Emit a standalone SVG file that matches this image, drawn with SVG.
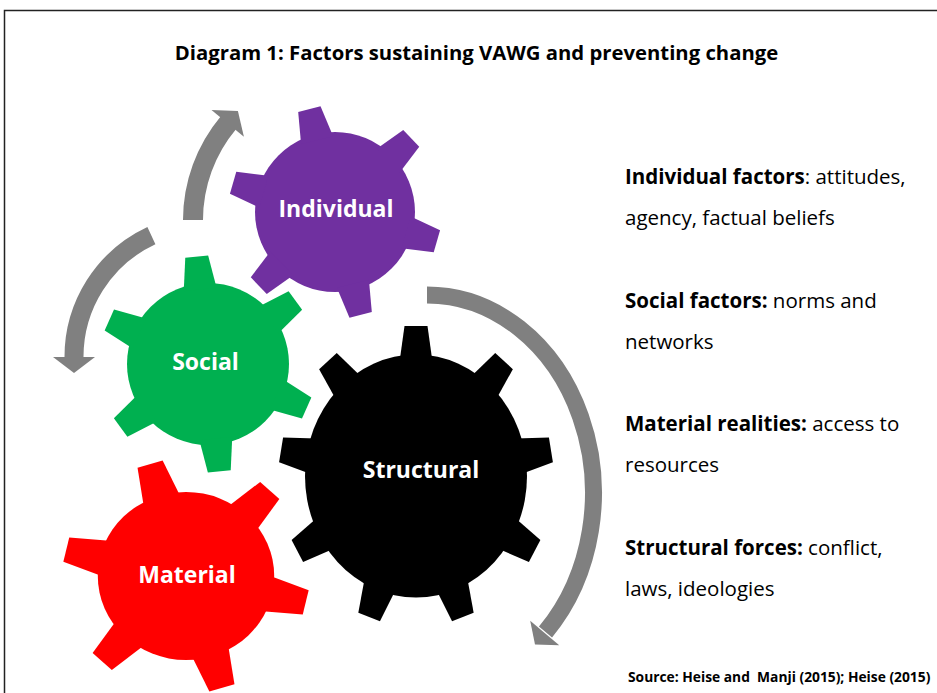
<svg xmlns="http://www.w3.org/2000/svg" width="937" height="693" viewBox="0 0 937 693">
<style>
  .frame { fill: none; stroke: #222; stroke-width: 1.5; }
  .title { font-family: "Open Sans", "Noto Sans", sans-serif; font-weight: bold; font-size: 20.3px; fill: #000; }
  .glabel { font-family: "Open Sans", "Noto Sans", sans-serif; font-weight: bold; font-size: 23px; fill: #fff; text-anchor: middle; }
  .desc { font-family: "Open Sans", "Noto Sans", sans-serif; font-size: 20.5px; fill: #000; }
  .b { font-weight: bold; }
  .src { font-family: "Open Sans", "Noto Sans", sans-serif; font-weight: bold; font-size: 13.8px; fill: #000; white-space: pre; }
  .shaft { fill: none; stroke: #808080; }
  .head { fill: #808080; }
</style>
<defs>
  <polygon id="tooth-black" points="-16.5,-104 -11.5,-137 11.5,-137 16.5,-104"/>
  <polygon id="tooth-red" points="-18,-79 -12.5,-117 12.5,-117 18,-79"/>
  <polygon id="tooth-green" points="-16.5,-75 -11.5,-108 11.5,-108 16.5,-75"/>
  <polygon id="tooth-purple" points="-16.5,-74 -11.5,-106 11.5,-106 16.5,-74"/>
</defs>

<rect width="937" height="693" fill="#fff"/>
<path class="frame" d="M4.5,693 V10.5 H937"/>

<text class="title" x="476.5" y="60" text-anchor="middle">Diagram 1: Factors sustaining VAWG and preventing change</text>

<g id="connectors">
  <g id="arrow-individual">
    <path class="shaft" stroke-width="20" d="M193,220 A152,152 0 0 1 228.5,122.6"/>
    <polygon class="head" points="211.5,109.9 237.9,111 243.9,136.7"/>
  </g>
  <g id="arrow-social">
    <path class="shaft" stroke-width="19" d="M151.4,235.6 A134,134 0 0 0 74,358"/>
    <polygon class="head" points="53,357 95,357 74,373"/>
  </g>
  <g id="arrow-structural">
    <path class="shaft" stroke-width="17" d="M427,295 A166.5,198 0 0 1 545.5,632"/>
    <polygon class="head" points="530.2,620.7 559.2,645.3 535,644.5"/>
  </g>
</g>

<g id="node-individual">
  <g fill="#7030A0" transform="translate(335,212)">
    <circle r="80"/>
    <use href="#tooth-purple" transform="rotate(-14)"/>
    <use href="#tooth-purple" transform="rotate(46)"/>
    <use href="#tooth-purple" transform="rotate(106)"/>
    <use href="#tooth-purple" transform="rotate(166)"/>
    <use href="#tooth-purple" transform="rotate(226)"/>
    <use href="#tooth-purple" transform="rotate(286)"/>
  </g>
  <text class="glabel" x="336" y="217">Individual</text>
</g>

<g id="node-social">
  <g fill="#00B050" transform="translate(208,364)">
    <circle r="81"/>
    <use href="#tooth-green" transform="rotate(-6)"/>
    <use href="#tooth-green" transform="rotate(54)"/>
    <use href="#tooth-green" transform="rotate(114)"/>
    <use href="#tooth-green" transform="rotate(174)"/>
    <use href="#tooth-green" transform="rotate(234)"/>
    <use href="#tooth-green" transform="rotate(294)"/>
  </g>
  <text class="glabel" x="205.5" y="370">Social</text>
</g>

<g id="node-material">
  <g fill="#FF0000" transform="translate(186,576) scale(1.05,1)">
    <circle r="84"/>
    <use href="#tooth-red" transform="rotate(-17)"/>
    <use href="#tooth-red" transform="rotate(43)"/>
    <use href="#tooth-red" transform="rotate(103)"/>
    <use href="#tooth-red" transform="rotate(163)"/>
    <use href="#tooth-red" transform="rotate(223)"/>
    <use href="#tooth-red" transform="rotate(283)"/>
  </g>
  <text class="glabel" x="187" y="583">Material</text>
</g>

<g id="node-structural">
  <g fill="#000000" transform="translate(416,476) scale(1,1.095)">
    <circle r="111"/>
    <use href="#tooth-black" transform="rotate(0)"/>
    <use href="#tooth-black" transform="rotate(40)"/>
    <use href="#tooth-black" transform="rotate(80)"/>
    <use href="#tooth-black" transform="rotate(120)"/>
    <use href="#tooth-black" transform="rotate(160)"/>
    <use href="#tooth-black" transform="rotate(200)"/>
    <use href="#tooth-black" transform="rotate(240)"/>
    <use href="#tooth-black" transform="rotate(280)"/>
    <use href="#tooth-black" transform="rotate(320)"/>
  </g>
  <text class="glabel" x="421" y="478">Structural</text>
</g>

<g id="legend">
  <text class="desc" x="625" y="184"><tspan class="b">Individual factors</tspan>: attitudes,</text>
  <text class="desc" x="625" y="225">agency, factual beliefs</text>
  <text class="desc" x="625" y="307.5"><tspan class="b">Social factors:</tspan> norms and</text>
  <text class="desc" x="625" y="348.5">networks</text>
  <text class="desc" x="625" y="431"><tspan class="b">Material realities:</tspan> access to</text>
  <text class="desc" x="625" y="472">resources</text>
  <text class="desc" x="625" y="554.5"><tspan class="b">Structural forces:</tspan> conflict,</text>
  <text class="desc" x="625" y="595.5">laws, ideologies</text>
</g>

<text class="src" x="628" y="682">Source: Heise and  Manji (2015); Heise (2015)</text>
</svg>
